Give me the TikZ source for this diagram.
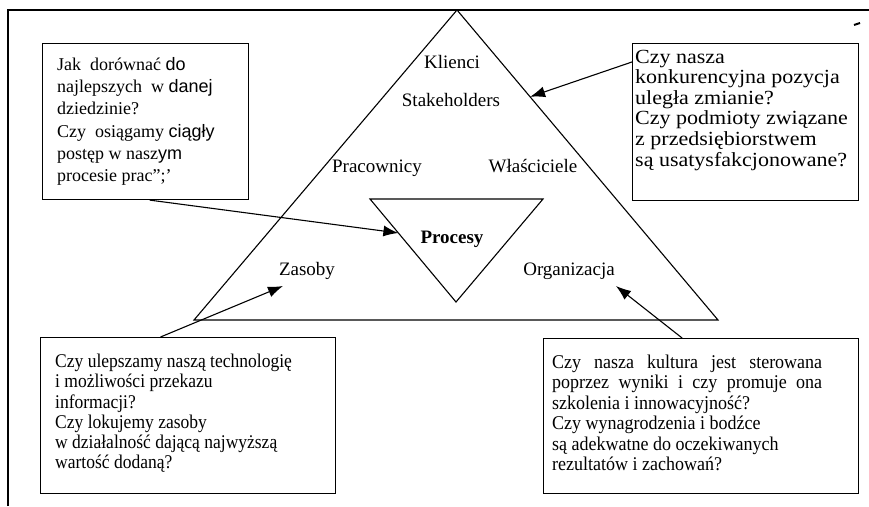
\documentclass[tikz,border=0pt]{standalone}
\usepackage{fontspec}
\usepackage{graphicx}
\setmainfont{Liberation Serif}
\setsansfont{Liberation Sans}
\usetikzlibrary{arrows.meta,calc}
% #1 vertical stretch, #2 font size, #3 line spacing, #4 lines
\newcommand{\qlines}[4]{\scalebox{1}[#1]{\fontsize{#2}{#3}\selectfont\begin{tabular}[t]{@{}l@{}}#4\end{tabular}}}
\begin{document}
\begin{tikzpicture}[x=1pt,y=-1pt,
  line join=miter,
  edge/.style={line width=1.1pt},
  qbox/.style={draw,line width=1.1pt,inner sep=0pt,anchor=north west},
  qtext/.style={inner sep=0pt,anchor=north west},
  lbl/.style={inner sep=0pt,anchor=base,font=\fontsize{19}{22}\selectfont},
  arr/.style={line width=1.1pt,-{Latex[length=15pt,width=11pt]}}]
\useasboundingbox (0,0) rectangle (869,506);

% frame (top and left rules) and a small mark at the top right
\draw[line width=1.3pt] (8,506) -- (8,10) -- (869,10);
\draw[line width=2pt] (854,25) -- (860,23);

% outer triangle and inner inverted triangle
\coordinate (apex) at (457,10);
\coordinate (bl) at (194,320);
\coordinate (br) at (718,320);
\draw[edge] (apex) -- (br) -- (bl) -- cycle;
\coordinate (pl) at (370,199);
\coordinate (pr) at (543,199);
\coordinate (pb) at (456,302);
\draw[edge] (pl) -- (pr) -- (pb) -- cycle;

% labels inside the triangle
\node[lbl] (klienci) at (452,68) {Klienci};
\node[lbl] (stake) at (451,106) {Stakeholders};
\node[lbl] (prac) at (377,172) {Pracownicy};
\node[lbl] (wlasc) at (533,172) {Właściciele};
\node[lbl,font=\fontsize{19}{22}\selectfont\bfseries] (proc) at (452,243) {Procesy};
\node[lbl] (zasoby) at (307,275) {Zasoby};
\node[lbl] (org) at (569,275) {Organizacja};

% question boxes
\node[qbox,minimum width=206pt,minimum height=156pt] (tl) at (42,43) {};
\node[qtext] (tltext) at (57,54.5) {\qlines{1}{18}{22.3}{Jak\ \ dorównać {\sffamily do}\\najlepszych\ \ w {\sffamily danej}\\dziedzinie?\\Czy\ \ osiągamy {\sffamily ciągły}\\postęp\ w nasz{\sffamily ym}\\procesie prac";’}};

\node[qbox,minimum width=226pt,minimum height=157pt] (tr) at (632,43) {};
\node[qtext] (trtext) at (635,48.6) {\qlines{0.91}{22}{22.6}{Czy nasza\\konkurencyjna pozycja\\uległa zmianie?\\Czy podmioty związane\\z przedsiębiorstwem\\są usatysfakcjonowane?}};

\node[qbox,minimum width=295pt,minimum height=156pt] (bl box) at (40,337) {};
\node[qtext] (bltext) at (55,353) {\qlines{1.11}{17.5}{18.3}{Czy ulepszamy naszą technologię\\i możliwości przekazu\\informacji?\\Czy lokujemy zasoby\\w działalność dającą najwyższą\\wartość dodaną?}};

\node[qbox,minimum width=315pt,minimum height=155pt] (br box) at (543,338) {};
\node[qtext] (brtext) at (552,353.6) {\qlines{1.08}{18}{19}{\makebox[270pt][s]{Czy nasza kultura jest sterowana}\\\makebox[270pt][s]{poprzez wyniki i czy promuje ona}\\szkolenia i innowacyjność?\\Czy wynagrodzenia i bodźce\\są adekwatne do oczekiwanych\\rezultatów i zachowań?}};

% arrows from the boxes
\coordinate (tip1) at ($(pl)!0.33!(pb)$);
\draw[arr] ($(tl.south west)!0.52!(tl.south east)$) -- (tip1);
\coordinate (tip2) at ($(apex)!0.28!(br)$);
\draw[arr] ($(tr.north west)!0.12!(tr.south west)$) -- (tip2);
\coordinate (tip3) at (283,286);
\draw[arr] ($(bl box.north west)!0.407!(bl box.north east)$) -- (tip3);
\coordinate (tip4) at (616,286);
\draw[arr] ($(br box.north west)!0.44!(br box.north east)$) -- (tip4);
\end{tikzpicture}
\end{document}
